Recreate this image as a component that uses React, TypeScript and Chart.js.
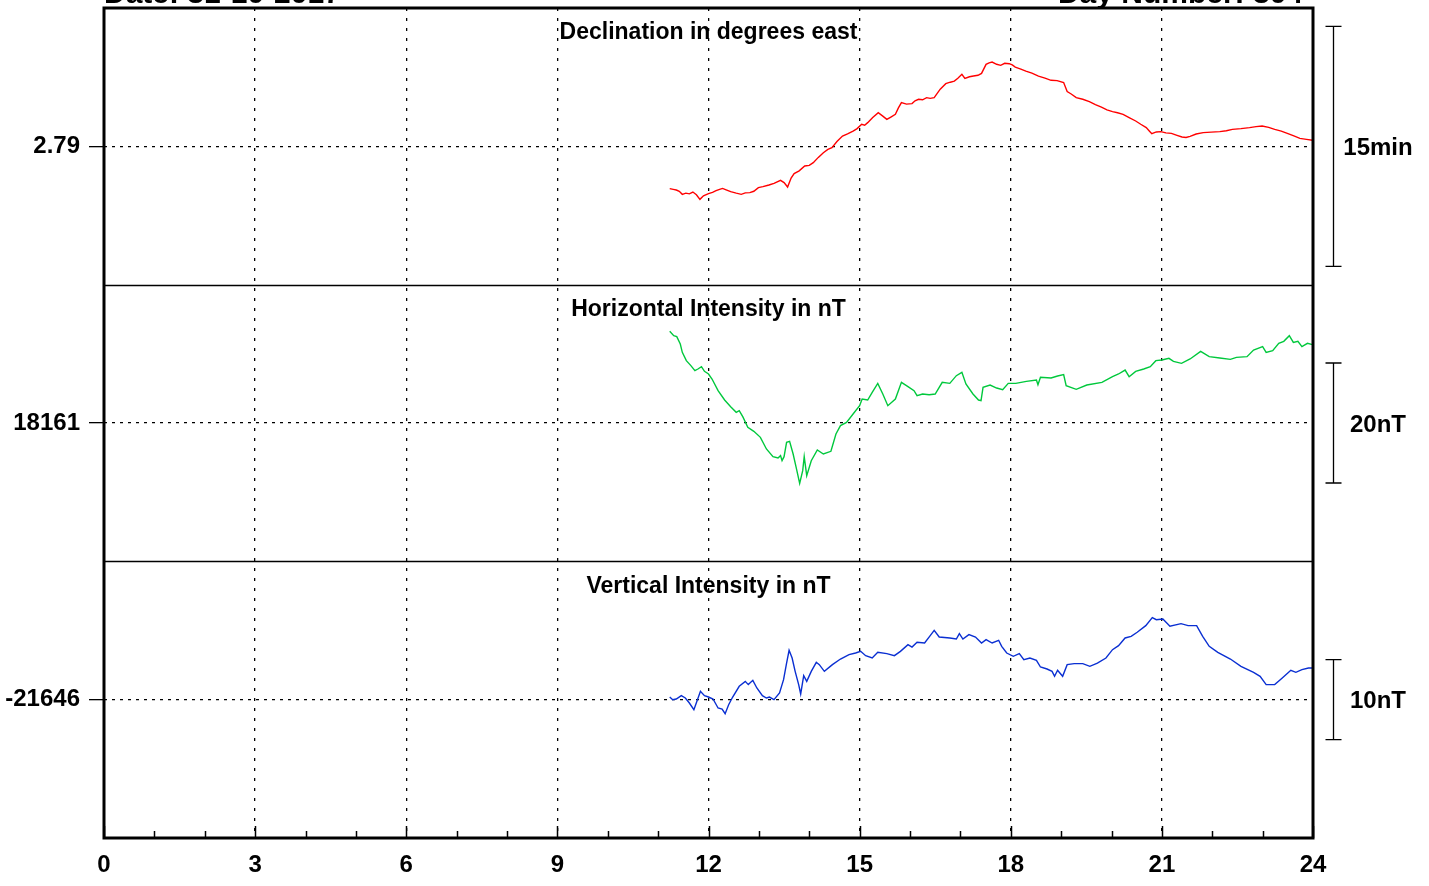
import { useEffect, useRef } from 'react';
import { Chart, registerables } from 'chart.js';

Chart.register(...registerables);

// ---- text ----
const headerLeft = 'Date: 31-10-2017';
const headerRight = 'Day Number: 304';
const panelTitles = ['Declination in degrees east', 'Horizontal Intensity in nT', 'Vertical Intensity in nT'];
const baselineLabels = ['2.79', '18161', '-21646'];
const scaleBarLabels = ['15min', '20nT', '10nT'];

// ---- panel scales (value units) ----
const baselines = [2.79, 18161, -21646];
const scaleBarSpans = [0.25, 20, 10];
const panelHalfRanges = [0.1441, 23.06, 17.29];

// ---- x axis (hours UT) ----
const hourTicks = [0, 3, 6, 9, 12, 15, 18, 21, 24];

// ---- Declination (degrees east) ----
const declHours = [
  11.23, 11.3, 11.36, 11.42, 11.48, 11.55, 11.62, 11.69, 11.76, 11.83,
  11.9, 12.0, 12.08, 12.15, 12.22, 12.28, 12.35, 12.44, 12.55, 12.65,
  12.73, 12.82, 12.9, 12.99, 13.08, 13.2, 13.3, 13.43, 13.5, 13.57,
  13.64, 13.7, 13.8, 13.91, 14.0, 14.08, 14.18, 14.28, 14.37, 14.45,
  14.55, 14.66, 14.76, 14.87, 14.95, 15.04, 15.1, 15.16, 15.26, 15.37,
  15.46, 15.54, 15.62, 15.71, 15.77, 15.83, 15.93, 16.04, 16.1, 16.17,
  16.25, 16.33, 16.4, 16.48, 16.6, 16.71, 16.8, 16.88, 16.95, 17.03,
  17.09, 17.18, 17.26, 17.35, 17.42, 17.51, 17.57, 17.63, 17.72, 17.8,
  17.88, 17.97, 18.03, 18.09, 18.2, 18.3, 18.42, 18.55, 18.68, 18.8,
  18.92, 19.05, 19.12, 19.2, 19.3, 19.43, 19.56, 19.68, 19.8, 19.91,
  20.02, 20.12, 20.23, 20.35, 20.48, 20.58, 20.69, 20.75, 20.8, 20.89,
  20.98, 21.08, 21.19, 21.3, 21.4, 21.48, 21.56, 21.68, 21.82, 21.98,
  22.15, 22.28, 22.4, 22.57, 22.74, 22.87, 22.99, 23.12, 23.24, 23.37,
  23.49, 23.62, 23.74, 23.87, 23.99,
];
const declValues = [
  2.7459, 2.7452, 2.7445, 2.7432, 2.74, 2.7412, 2.7405, 2.7424, 2.7395, 2.7348,
  2.7385, 2.7407, 2.742, 2.7438, 2.7452, 2.7462, 2.7447, 2.7428, 2.7412, 2.74,
  2.7415, 2.7418, 2.7432, 2.747, 2.748, 2.7497, 2.7515, 2.7546, 2.7522, 2.7476,
  2.757, 2.7616, 2.7645, 2.7695, 2.7702, 2.773, 2.7785, 2.7834, 2.7868, 2.7886,
  2.795, 2.8007, 2.803, 2.8059, 2.8085, 2.8129, 2.812, 2.8147, 2.82, 2.8251,
  2.8215, 2.8181, 2.8205, 2.8233, 2.83, 2.8355, 2.834, 2.8345, 2.8375, 2.839,
  2.8385, 2.8407, 2.84, 2.8407, 2.8495, 2.8553, 2.8568, 2.858, 2.861, 2.865,
  2.8608, 2.8625, 2.8632, 2.864, 2.866, 2.8754, 2.877, 2.8778, 2.8755, 2.8744,
  2.8765, 2.8761, 2.8748, 2.8726, 2.8705, 2.8684, 2.8662, 2.8632, 2.861, 2.8588,
  2.8585, 2.8564, 2.847, 2.8445, 2.8407, 2.839, 2.8366, 2.8335, 2.8309, 2.828,
  2.8261, 2.825, 2.8233, 2.82, 2.8164, 2.813, 2.8095, 2.806, 2.8032, 2.805,
  2.8053, 2.804, 2.8035, 2.8015, 2.7997, 2.7992, 2.8004, 2.8028, 2.8043, 2.8048,
  2.8053, 2.8062, 2.8077, 2.8085, 2.8095, 2.8105, 2.8111, 2.8098, 2.8077, 2.8058,
  2.8035, 2.8008, 2.7983, 2.7972, 2.7963,
];

// ---- Horizontal intensity (nT) ----
const hHours = [
  11.23, 11.31, 11.37, 11.44, 11.48, 11.56, 11.65, 11.73, 11.79, 11.86,
  11.92, 12.0, 12.07, 12.19, 12.32, 12.44, 12.55, 12.61, 12.68, 12.78,
  12.9, 13.03, 13.15, 13.28, 13.38, 13.43, 13.46, 13.5, 13.55, 13.61,
  13.68, 13.74, 13.81, 13.87, 13.9, 13.95, 14.04, 14.16, 14.28, 14.43,
  14.53, 14.62, 14.74, 14.87, 15.0, 15.05, 15.16, 15.25, 15.36, 15.46,
  15.56, 15.71, 15.83, 15.96, 16.08, 16.14, 16.25, 16.38, 16.5, 16.64,
  16.79, 16.92, 17.03, 17.11, 17.25, 17.36, 17.41, 17.45, 17.59, 17.72,
  17.84, 17.95, 18.1, 18.31, 18.51, 18.54, 18.59, 18.8, 18.93, 19.05,
  19.1, 19.3, 19.51, 19.81, 20.02, 20.14, 20.27, 20.35, 20.48, 20.64,
  20.77, 20.88, 21.0, 21.14, 21.23, 21.39, 21.56, 21.77, 21.94, 22.15,
  22.36, 22.48, 22.69, 22.82, 23.0, 23.07, 23.2, 23.32, 23.42, 23.53,
  23.61, 23.7, 23.78, 23.89, 23.99,
];
const hValues = [
  18176.28, 18175.56, 18175.39, 18174.17, 18172.78, 18171.39, 18170.56, 18169.72, 18170.0, 18170.39,
  18169.61, 18169.17, 18168.33, 18166.39, 18164.83, 18163.72, 18162.78, 18163.06, 18162.06, 18160.28,
  18159.61, 18158.61, 18156.67, 18155.39, 18155.17, 18155.56, 18154.72, 18155.39, 18157.78, 18157.94,
  18155.83, 18153.61, 18150.94, 18153.06, 18155.39, 18152.22, 18154.72, 18156.5, 18155.83, 18156.28,
  18159.17, 18160.56, 18161.11, 18162.5, 18163.89, 18165.0, 18164.83, 18166.11, 18167.61, 18165.83,
  18163.89, 18165.0, 18167.78, 18167.06, 18166.39, 18165.56, 18165.83, 18165.72, 18165.83, 18167.78,
  18167.61, 18168.89, 18169.44, 18167.5, 18165.83, 18164.83, 18164.72, 18166.94, 18167.33, 18166.83,
  18166.56, 18167.61, 18167.61, 18167.94, 18168.17, 18167.39, 18168.61, 18168.5, 18168.83, 18169.06,
  18167.22, 18166.61, 18167.33, 18167.78, 18168.72, 18169.17, 18169.83, 18168.72, 18169.61, 18170.0,
  18170.39, 18171.39, 18171.5, 18171.78, 18171.28, 18170.94, 18171.67, 18172.94, 18172.06, 18171.83,
  18171.61, 18171.94, 18172.06, 18173.17, 18173.72, 18172.78, 18173.06, 18174.28, 18174.61, 18175.56,
  18174.44, 18174.61, 18173.72, 18174.28, 18174.06,
];

// ---- Vertical intensity (nT) ----
const zHours = [
  11.23, 11.29, 11.36, 11.46, 11.54, 11.62, 11.71, 11.77, 11.84, 11.92,
  12.0, 12.09, 12.19, 12.27, 12.33, 12.4, 12.48, 12.61, 12.73, 12.79,
  12.88, 12.96, 13.07, 13.15, 13.21, 13.3, 13.41, 13.49, 13.55, 13.6,
  13.66, 13.72, 13.79, 13.83, 13.89, 13.95, 14.04, 14.14, 14.2, 14.3,
  14.46, 14.62, 14.79, 14.92, 15.02, 15.12, 15.25, 15.36, 15.54, 15.69,
  15.81, 15.96, 16.04, 16.14, 16.29, 16.39, 16.48, 16.58, 16.79, 16.92,
  16.98, 17.05, 17.17, 17.3, 17.42, 17.51, 17.63, 17.76, 17.82, 17.92,
  18.05, 18.17, 18.26, 18.38, 18.51, 18.59, 18.72, 18.82, 18.87, 18.93,
  19.03, 19.12, 19.26, 19.43, 19.57, 19.72, 19.89, 20.02, 20.14, 20.27,
  20.39, 20.51, 20.68, 20.81, 20.89, 21.02, 21.16, 21.38, 21.52, 21.69,
  21.81, 21.94, 22.11, 22.36, 22.57, 22.82, 22.95, 23.07, 23.24, 23.39,
  23.56, 23.66, 23.78, 23.91, 23.99,
];
const zValues = [
  -21645.67, -21646.0, -21645.92, -21645.5, -21645.79, -21646.42, -21647.25, -21646.21, -21644.96, -21645.5,
  -21645.67, -21645.92, -21647.04, -21647.17, -21647.75, -21646.63, -21645.67, -21644.33, -21643.71, -21644.12,
  -21643.58, -21644.54, -21645.5, -21645.79, -21645.67, -21646.0, -21645.17, -21643.5, -21641.42, -21639.83,
  -21640.79, -21642.46, -21644.12, -21645.29, -21643.0, -21643.71, -21642.46, -21641.33, -21641.62, -21642.46,
  -21641.62, -21640.92, -21640.37, -21640.17, -21639.96, -21640.5, -21640.79, -21640.08, -21640.25, -21640.5,
  -21639.96, -21639.12, -21639.42, -21638.83, -21638.92, -21638.08, -21637.33, -21638.17, -21638.29, -21638.42,
  -21637.75, -21638.42, -21637.87, -21638.17, -21638.92, -21638.5, -21638.92, -21638.58, -21639.33, -21640.17,
  -21640.58, -21640.25, -21641.0, -21640.79, -21641.08, -21641.92, -21642.17, -21642.46, -21643.08, -21642.33,
  -21643.08, -21641.62, -21641.5, -21641.5, -21641.83, -21641.42, -21640.79, -21639.75, -21639.25, -21638.29,
  -21638.08, -21637.58, -21636.75, -21635.75, -21636.0, -21635.92, -21636.83, -21636.5, -21636.75, -21636.75,
  -21638.08, -21639.33, -21640.08, -21640.92, -21641.83, -21642.58, -21643.08, -21644.12, -21644.12, -21643.29,
  -21642.33, -21642.58, -21642.25, -21642.04, -21642.04,
];

const seriesColors = ['#ff0000', '#00c83c', '#0a2fd2'];
const FONT = '"Liberation Sans", Arial, sans-serif';

const zip = (xs: number[], ys: number[]) => xs.map((x, i) => ({ x, y: ys[i] }));

const panelIds = ['yD', 'yH', 'yZ'];

const overlayPlugin = {
  id: 'magOverlay',
  afterDraw(chart: any) {
    const ctx = chart.ctx as CanvasRenderingContext2D;
    const a = chart.chartArea;
    const xs = chart.scales.x;
    const ys = panelIds.map((id) => chart.scales[id]);
    ctx.save();
    ctx.strokeStyle = '#000';
    ctx.fillStyle = '#000';

    // panel separators
    ctx.lineWidth = 1.5;
    const sorted = [...ys].sort((p, q) => p.top - q.top);
    for (let i = 1; i < sorted.length; i++) {
      const y = Math.round(sorted[i].top) + 0.5;
      ctx.beginPath();
      ctx.moveTo(a.left, y);
      ctx.lineTo(a.right, y);
      ctx.stroke();
    }

    // inner tick marks on the time axis
    ctx.lineWidth = 1.5;
    for (let h = 0; h <= 24; h++) {
      const px = Math.round(xs.getPixelForValue(h)) + 0.5;
      const len = hourTicks.includes(h) ? 12 : 7;
      ctx.beginPath();
      ctx.moveTo(px, a.bottom);
      ctx.lineTo(px, a.bottom - len);
      ctx.stroke();
    }

    // frame
    ctx.lineWidth = 3;
    ctx.strokeRect(a.left, a.top, a.right - a.left, a.bottom - a.top);

    // panel titles
    ctx.font = `bold 23px ${FONT}`;
    ctx.textAlign = 'center';
    ctx.textBaseline = 'middle';
    ys.forEach((s: any, i: number) => {
      ctx.fillText(panelTitles[i], (a.left + a.right) / 2, s.top + 25);
    });

    // scale bars at right
    ctx.lineWidth = 1.3;
    ys.forEach((s: any, i: number) => {
      const y1 = s.getPixelForValue(baselines[i] + scaleBarSpans[i] / 2);
      const y2 = s.getPixelForValue(baselines[i] - scaleBarSpans[i] / 2);
      const bx = a.right + 20.5;
      ctx.beginPath();
      ctx.moveTo(bx, y1);
      ctx.lineTo(bx, y2);
      ctx.moveTo(bx - 8, y1);
      ctx.lineTo(bx + 8, y1);
      ctx.moveTo(bx - 8, y2);
      ctx.lineTo(bx + 8, y2);
      ctx.stroke();
      ctx.font = `bold 24px ${FONT}`;
      ctx.textAlign = 'center';
      ctx.textBaseline = 'middle';
      ctx.fillText(scaleBarLabels[i], a.right + 65, s.getPixelForValue(baselines[i]) + 2);
    });

    // clipped header
    ctx.font = `bold 30px ${FONT}`;
    ctx.textBaseline = 'alphabetic';
    ctx.textAlign = 'left';
    ctx.fillText(headerLeft, a.left, 3);
    ctx.textAlign = 'right';
    ctx.fillText(headerRight, a.right - 10, 3);

    ctx.restore();
  },
};

function makeY(i: number) {
  return {
    axis: 'y',
    type: 'linear',
    position: 'left',
    stack: 'panels',
    stackWeight: 1,
    min: baselines[i] - panelHalfRanges[i],
    max: baselines[i] + panelHalfRanges[i],
    afterBuildTicks: (s: any) => {
      s.ticks = [{ value: baselines[i] }];
    },
    afterFit: (s: any) => {
      s.width = 104;
      s.paddingTop = 0;
      s.paddingBottom = 0;
    },
    ticks: {
      callback: () => baselineLabels[i],
      color: '#000',
      padding: 9,
      font: { family: FONT, size: 24, weight: 'bold' },
    },
    grid: {
      color: '#000',
      lineWidth: 1.3,
      drawTicks: true,
      tickLength: 15,
      tickColor: '#000',
      tickWidth: 1.3,
      tickBorderDash: [],
    },
    border: { display: false, dash: [3, 5] },
  };
}

export default function App() {
  const ref = useRef<HTMLCanvasElement | null>(null);
  useEffect(() => {
    if (!ref.current) return;
    const chart = new Chart(ref.current, {
      type: 'line',
      data: {
        datasets: [
          { data: zip(declHours, declValues), yAxisID: 'yD', borderColor: seriesColors[0] },
          { data: zip(hHours, hValues), yAxisID: 'yH', borderColor: seriesColors[1] },
          { data: zip(zHours, zValues), yAxisID: 'yZ', borderColor: seriesColors[2] },
        ].map((d) => ({ ...d, borderWidth: 1.4, pointRadius: 0, tension: 0, fill: false })),
      },
      options: {
        responsive: false,
        animation: false,
        devicePixelRatio: 1,
        layout: { padding: { top: 8, right: 116, left: 0, bottom: 0 } },
        plugins: { legend: { display: false }, tooltip: { enabled: false } },
        scales: {
          x: {
            type: 'linear',
            min: 0,
            max: 24,
            afterBuildTicks: (s: any) => {
              const t = [];
              for (let h = 0; h <= 24; h++) t.push({ value: h });
              s.ticks = t;
            },
            afterFit: (s: any) => {
              s.height = 48;
            },
            ticks: {
              autoSkip: false,
              maxRotation: 0,
              padding: 13,
              color: '#000',
              font: { family: FONT, size: 24, weight: 'bold' },
              callback: (v: any) => (hourTicks.includes(Number(v)) ? String(v) : ''),
            },
            grid: {
              drawTicks: false,
              lineWidth: 1.3,
              color: (c: any) => {
                const v = c.tick ? c.tick.value : -1;
                return v % 3 === 0 && v > 0 && v < 24 ? '#000' : 'rgba(0,0,0,0)';
              },
            },
            border: { display: false, dash: [3, 7] },
          },
          yZ: makeY(2),
          yH: makeY(1),
          yD: makeY(0),
        } as any,
      },
      plugins: [overlayPlugin],
    } as any);
    return () => chart.destroy();
  }, []);
  return (
    <canvas
      ref={ref}
      width={1429}
      height={886}
      style={{ position: 'fixed', left: 0, top: 0, width: 1429, height: 886, display: 'block', background: '#fff' }}
    />
  );
}
